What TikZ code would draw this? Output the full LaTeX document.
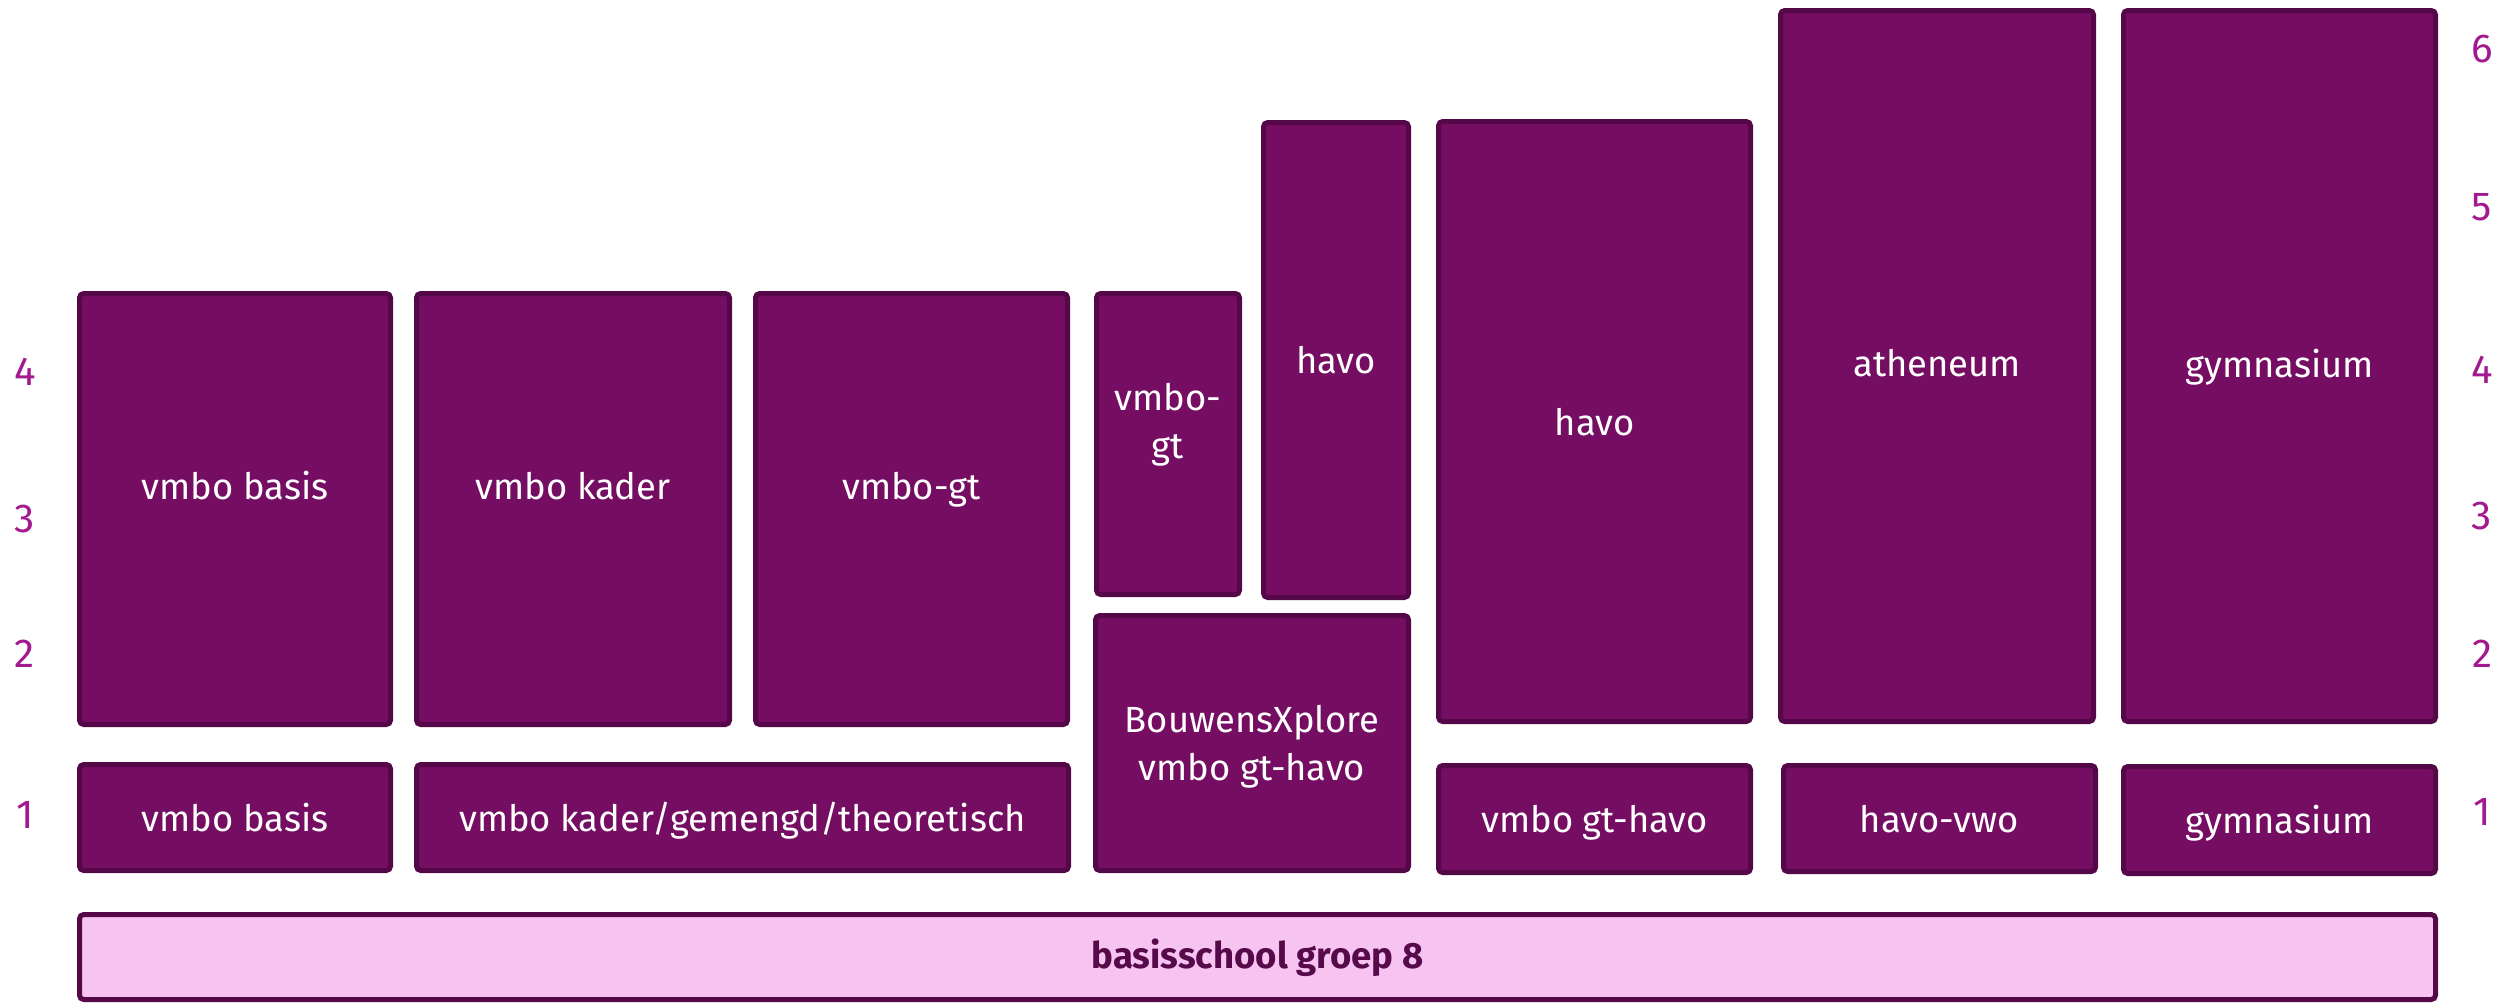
\documentclass[tikz,border=0pt]{standalone}
\usepackage{fontspec}
\setmainfont{Fira Sans}
\usetikzlibrary{fit}
\definecolor{boxfill}{HTML}{750E62}
\definecolor{boxline}{HTML}{550848}
\definecolor{pinkfill}{HTML}{F7C3F0}
\definecolor{numcol}{HTML}{A3198F}
\definecolor{darktext}{HTML}{570A4A}
\newcommand\mybox[6][boxstyle]{\node[#1, fit={(#3+2.5,#4+2.5) (#5-2.5,#6-2.5)}] (#2) {};}
\begin{document}
\begin{tikzpicture}[x=0.1mm,y=-0.1mm,
 boxstyle/.style={draw=boxline, fill=boxfill, line width=0.5mm, rounded corners=1.2pt, inner sep=0pt},
 basestyle/.style={boxstyle, fill=pinkfill},
 lbl/.style={text=white, font=\fontsize{10.35}{13.4}\selectfont, anchor=base, inner sep=0pt, align=center},
 baselbl/.style={text=darktext, font=\fontsize{10.4}{13}\selectfont\bfseries, anchor=base, inner sep=0pt},
 num/.style={text=numcol, font=\fontsize{11.5}{13}\selectfont, anchor=base, inner sep=0pt}]
\useasboundingbox (0,0) rectangle (2503,1003);
% boxes
\mybox{vb4}{77}{291}{393}{727}
\mybox{vk4}{414}{291}{732}{727}
\mybox{vg4}{753}{291}{1070}{727}
\mybox{vgn}{1094}{291}{1242}{597}
\mybox{hvn}{1261}{120}{1411}{600}
\mybox{hv}{1436}{119}{1753}{724}
\mybox{at}{1778}{8}{2096}{724}
\mybox{gy}{2121}{8}{2438}{724}
\mybox{vb1}{77}{762}{393}{873}
\mybox{vk1}{414}{762}{1071}{873}
\mybox{bx}{1093}{613}{1411}{873}
\mybox{vgh}{1436}{763}{1753}{875}
\mybox{hvw}{1781}{763}{2098}{874}
\mybox{gy1}{2121}{764}{2438}{876}
\mybox[basestyle]{bs}{77}{912}{2438}{1002}
% labels
\node[lbl] (tvb4) at (235,499) {vmbo basis};
\node[lbl] (tvk4) at (573,499) {vmbo kader};
\node[lbl] (tvg4) at (911.5,499) {vmbo-gt};
\node[lbl] (tvgn) at (1168,458) {vmbo-\\gt};
\node[lbl] (thvn) at (1336,373) {havo};
\node[lbl] (thv) at (1594.5,435) {havo};
\node[lbl] (tat) at (1937,376) {atheneum};
\node[lbl] (tgy) at (2279.5,377) {gymnasium};
\node[lbl] (tvb1) at (235,831) {vmbo basis};
\node[lbl] (tvk1) at (742.5,831) {vmbo kader/gemengd/theoretisch};
\node[lbl] (tbx) at (1252,780) {BouwensXplore\\vmbo gt-havo};
\node[lbl] (tvgh) at (1594.5,832) {vmbo gt-havo};
\node[lbl] (thvw) at (1939.5,832) {havo-vwo};
\node[lbl] (tgy1) at (2279.5,833) {gymnasium};
\node[baselbl] (tbs) at (1257.5,968) {basisschool groep 8};
% year numbers
\node[num] (l4) at (25,385) {4};
\node[num] (l3) at (25,532) {3};
\node[num] (l2) at (25,667) {2};
\node[num] (l1) at (25,828) {1};
\node[num] (r6) at (2482,62) {6};
\node[num] (r5) at (2482,220) {5};
\node[num] (r4) at (2482,383) {4};
\node[num] (r3) at (2482,529) {3};
\node[num] (r2) at (2482,667) {2};
\node[num] (r1) at (2482,825) {1};
\end{tikzpicture}
\end{document}
